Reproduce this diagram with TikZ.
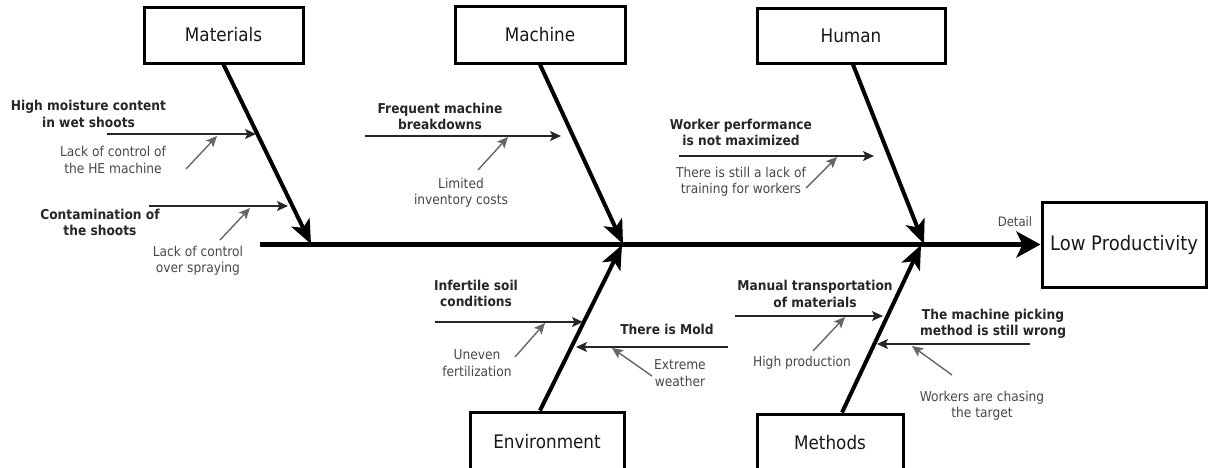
\documentclass[tikz,border=0pt]{standalone}
\usepackage{fontspec}
\setmainfont[FakeStretch=0.9]{DejaVu Sans}
\usetikzlibrary{arrows.meta,calc}
\begin{document}
\begin{tikzpicture}[x=1pt,y=-1pt,
  catbox/.style={draw,line width=3pt,inner sep=0pt,font=\fontsize{18.7}{21}\selectfont,text=black!90},
  cause/.style={inner sep=0pt,align=center,font=\bfseries\fontsize{13.6}{16.5}\selectfont,text=black!85},
  sub/.style={inner sep=0pt,align=center,font=\fontsize{13.6}{16.5}\selectfont,text=black!72},
  bone/.style={line width=4pt,-{Stealth[length=24pt,width=20pt,inset=6pt]}},
  causearrow/.style={line width=1.4pt,draw=black!85,-{Stealth[length=11pt,width=10pt,inset=2.5pt]}},
  subarrow/.style={line width=1.4pt,draw=black!60,-{Stealth[length=11pt,width=10pt,inset=2.5pt]}},
]
\useasboundingbox (0,0) rectangle (1208,467);
\clip (0,0) rectangle (1208,467);

% category boxes
\node[catbox,minimum width=159pt,minimum height=56pt] (mat) at (223.5,35) {Materials};
\node[catbox,minimum width=170pt,minimum height=57pt] (mac) at (540,34.5) {Machine};
\node[catbox,minimum width=188pt,minimum height=55pt] (hum) at (851,35.5) {Human};
\node[catbox,minimum width=154pt,minimum height=60pt] (env) at (547,442) {Environment};
\node[catbox,minimum width=146pt,minimum height=58pt] (met) at (830,443) {Methods};
\node[catbox,minimum width=164pt,minimum height=85pt,font=\fontsize{20}{23}\selectfont] (low) at (1124,244.5) {Low Productivity};

% spine
\coordinate (spL) at (260,244.5);
\draw[line width=5pt,-{Stealth[length=24pt,width=26pt,inset=6pt]}] (spL) -- (low.west);
\node[sub,font=\fontsize{13}{15}\selectfont] (det) at (1015,222) {Detail};

% bone tips
\coordinate (tMat) at (311,244);
\coordinate (tMac) at (623,244);
\coordinate (tHum) at (924,244);
\coordinate (tEnv) at (622,245);
\coordinate (tMet) at (921,245);

\draw[bone] (mat.south) -- (tMat);
\draw[bone] (mac.south) -- (tMac);
\draw[bone] ([xshift=2pt]hum.south) -- (tHum);
\draw[bone] ([xshift=-7pt]env.north) -- (tEnv);
\draw[bone] ([xshift=12pt]met.north) -- (tMet);

% ---- Materials
\node[cause] (c1) at (88.5,114) {High moisture content\\in wet shoots};
\coordinate (c1a) at (107,134); \coordinate (c1b) at (256,134);
\draw[causearrow] (c1a) -- (c1b);
\node[sub] (s1) at (113,160) {Lack of control of\\the HE machine};
\coordinate (s1a) at (186,169); \coordinate (s1b) at (217,136);
\draw[subarrow] (s1a) -- (s1b);

\node[cause] (c2) at (100,222.5) {Contamination of\\the shoots};
\coordinate (c2a) at (149,206); \coordinate (c2b) at (288,206);
\draw[causearrow] (c2a) -- (c2b);
\node[sub] (s2) at (198,260.5) {Lack of control\\over spraying};
\coordinate (s2a) at (220,240); \coordinate (s2b) at (250,208);
\draw[subarrow] (s2a) -- (s2b);

% ---- Machine
\node[cause] (c3) at (440,116.5) {Frequent machine\\breakdowns};
\coordinate (c3a) at (365,136); \coordinate (c3b) at (561,136);
\draw[causearrow] (c3a) -- (c3b);
\node[sub] (s3) at (461,192.5) {Limited\\inventory costs};
\coordinate (s3a) at (478,170); \coordinate (s3b) at (508,137);
\draw[subarrow] (s3a) -- (s3b);

% ---- Human
\node[cause] (c4) at (741,132.5) {Worker performance\\is not maximized};
\coordinate (c4a) at (679,156); \coordinate (c4b) at (874,156);
\draw[causearrow] (c4a) -- (c4b);
\node[sub] (s4) at (741,181.5) {There is still a lack of\\training for workers};
\coordinate (s4a) at (806,188); \coordinate (s4b) at (837,157);
\draw[subarrow] (s4a) -- (s4b);

% ---- Environment
\node[cause] (c5) at (476,293.5) {Infertile soil\\conditions};
\coordinate (c5a) at (435,322); \coordinate (c5b) at (583,322);
\draw[causearrow] (c5a) -- (c5b);
\node[sub] (s5) at (477,363) {Uneven\\fertilization};
\coordinate (s5a) at (515,357); \coordinate (s5b) at (545,323);
\draw[subarrow] (s5a) -- (s5b);

\node[cause] (c6) at (667,329) {There is Mold};
\coordinate (c6a) at (728,347); \coordinate (c6b) at (576,347);
\draw[causearrow] (c6a) -- (c6b);
\node[sub] (s6) at (680,373) {Extreme\\weather};
\coordinate (s6a) at (652,376); \coordinate (s6b) at (612,348);
\draw[subarrow] (s6a) -- (s6b);

% ---- Methods
\node[cause] (c7) at (815,294) {Manual transportation\\of materials};
\coordinate (c7a) at (735,316); \coordinate (c7b) at (883,316);
\draw[causearrow] (c7a) -- (c7b);
\node[sub] (s7) at (802,363) {High production};
\coordinate (s7a) at (813,351); \coordinate (s7b) at (845,317);
\draw[subarrow] (s7a) -- (s7b);

\node[cause] (c8) at (993,324) {The machine picking\\method is still wrong};
\coordinate (c8a) at (1030,344); \coordinate (c8b) at (877,344);
\draw[causearrow] (c8a) -- (c8b);
\node[sub] (s8) at (982,405.5) {Workers are chasing\\the target};
\coordinate (s8a) at (952,375); \coordinate (s8b) at (912,346);
\draw[subarrow] (s8a) -- (s8b);
\end{tikzpicture}
\end{document}
